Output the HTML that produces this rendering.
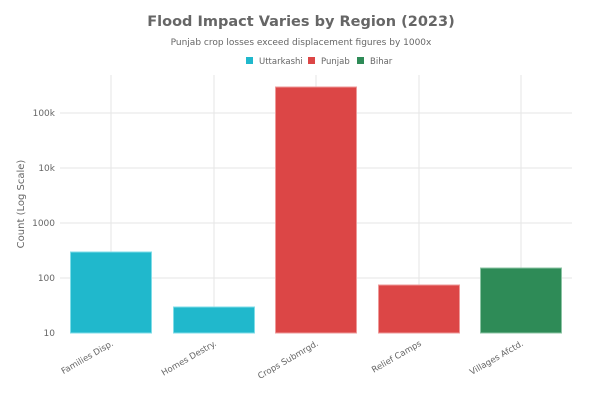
<!DOCTYPE html>
<html><head><style>
body{margin:0;background:#fff;}
svg{display:block;font-family:"DejaVu Sans","Liberation Sans",sans-serif;}
</style></head><body>
<svg width="602" height="401" viewBox="0 0 602 401">
<text x="301" y="26" text-anchor="middle" font-size="14.5" font-weight="bold" fill="#666">Flood Impact Varies by Region (2023)</text>
<text x="301" y="45" text-anchor="middle" font-size="9" fill="#666">Punjab crop losses exceed displacement figures by 1000x</text>
<rect x="246" y="57" width="7" height="7" fill="#20b8cc"/><text x="259" y="64" font-size="8.5" fill="#666">Uttarkashi</text>
<rect x="308" y="57" width="7" height="7" fill="#dc4646"/><text x="321" y="64" font-size="8.5" fill="#666">Punjab</text>
<rect x="357" y="57" width="7" height="7" fill="#2e8b57"/><text x="370" y="64" font-size="8.5" fill="#666">Bihar</text>
<g stroke="#e6e6e6" stroke-width="1">
<line x1="111" y1="75" x2="111" y2="333"/><line x1="214" y1="75" x2="214" y2="333"/><line x1="316" y1="75" x2="316" y2="333"/><line x1="419" y1="75" x2="419" y2="333"/><line x1="521" y1="75" x2="521" y2="333"/>
<line x1="60" y1="113" x2="572" y2="113"/><line x1="60" y1="168" x2="572" y2="168"/><line x1="60" y1="223" x2="572" y2="223"/><line x1="60" y1="278" x2="572" y2="278"/>
</g>
<g font-size="9" fill="#666" text-anchor="end">
<text x="55" y="116">100k</text><text x="55" y="171">10k</text><text x="55" y="226">1000</text><text x="55" y="281">100</text><text x="55" y="336">10</text>
</g>
<text transform="translate(24,204) rotate(-90)" text-anchor="middle" font-size="10" fill="#666">Count (Log Scale)</text>
<g stroke-width="1">
<rect x="70.5" y="252" width="81" height="81" fill="#20b8cc" stroke="#7fdde8"/>
<rect x="173.5" y="307" width="81" height="26" fill="#20b8cc" stroke="#7fdde8"/>
<rect x="275.5" y="87" width="81" height="246" fill="#dc4646" stroke="#ee9999"/>
<rect x="378.5" y="285" width="81" height="48" fill="#dc4646" stroke="#ee9999"/>
<rect x="480.5" y="268" width="81" height="65" fill="#2e8b57" stroke="#8cc4a4"/>
</g>
<g font-size="8.5" fill="#666" text-anchor="end">
<text transform="translate(114,345) rotate(-30)">Families Disp.</text>
<text transform="translate(217,345) rotate(-30)">Homes Destry.</text>
<text transform="translate(319,345) rotate(-30)">Crops Submrgd.</text>
<text transform="translate(422,345) rotate(-30)">Relief Camps</text>
<text transform="translate(524,345) rotate(-30)">Villages Afctd.</text>
</g>
</svg>
</body></html>
